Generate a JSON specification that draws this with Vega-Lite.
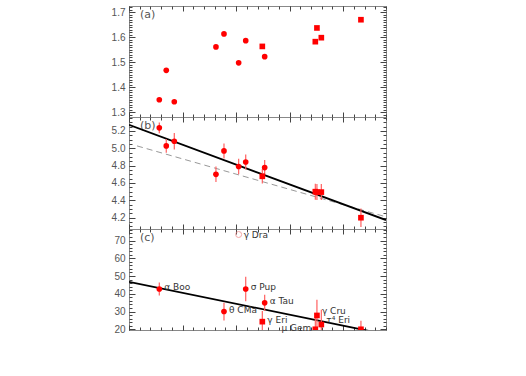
{
  "$schema": "https://vega.github.io/schema/vega-lite/v6.json",
  "background": "white",
  "padding": {"left": 110, "top": 5, "right": 5, "bottom": 5},
  "spacing": 0,
  "bounds": "flush",
  "config": {
    "view": {"stroke": "#888", "strokeWidth": 1},
    "axis": {"domain": false, "grid": false, "ticks": true, "title": null, "tickColor": "#444", "tickWidth": 1, "zindex": 2, "labelFont": "Liberation Sans", "labelFontSize": 10, "labelColor": "#555", "labelOverlap": false, "labelFlush": false},
    "text": {"font": "DejaVu Sans", "fontSize": 9, "color": "#333"}
  },
  "vconcat": [
    {
      "width": 257, "height": 111,
      "data": {"values": [
        {"x": 2.83, "y": 1.349, "type": "circle"},
        {"x": 3.48, "y": 1.467, "type": "circle"},
        {"x": 4.23, "y": 1.341, "type": "circle"},
        {"x": 8.12, "y": 1.561, "type": "circle"},
        {"x": 8.87, "y": 1.613, "type": "circle"},
        {"x": 10.24, "y": 1.497, "type": "circle"},
        {"x": 10.90, "y": 1.586, "type": "circle"},
        {"x": 12.45, "y": 1.563, "type": "square"},
        {"x": 12.67, "y": 1.522, "type": "circle"},
        {"x": 17.40, "y": 1.582, "type": "square"},
        {"x": 17.55, "y": 1.637, "type": "square"},
        {"x": 17.96, "y": 1.598, "type": "square"},
        {"x": 21.66, "y": 1.670, "type": "square"}
      ]},
      "layer": [
        {"mark": {"type": "point", "opacity": 0}, "encoding": {
          "x": {"field": "x", "type": "quantitative", "scale": {"domain": [0, 24], "nice": false, "zero": false}, "axis": {"orient": "top", "offset": -111, "values": [0, 5, 10, 15, 20], "labels": false, "tickSize": 5, "tickColor": "#444", "domain": false, "grid": false, "title": null}},
          "y": {"field": "y", "type": "quantitative", "scale": {"domain": [1.28, 1.725], "nice": false, "zero": false}, "axis": {"orient": "left", "values": [1.3, 1.4, 1.5, 1.6, 1.7], "format": ".1f", "ticks": false, "labelPadding": 4, "labelColor": "#555", "labelFontSize": 10, "domain": false, "grid": false, "title": null}}}},
        {"mark": {"type": "point", "opacity": 0}, "encoding": {
          "x": {"field": "x", "type": "quantitative", "axis": {"orient": "bottom", "offset": -111, "values": [0, 5, 10, 15, 20], "labels": false, "tickSize": 5, "tickColor": "#444", "domain": false, "grid": false, "title": null}},
          "y": {"field": "y", "type": "quantitative", "axis": {"orient": "right", "offset": -257, "values": [1.3, 1.4, 1.5, 1.6, 1.7], "labels": false, "tickSize": 6, "tickColor": "#444", "domain": false, "grid": false, "title": null}}}},
        {"mark": {"type": "point", "opacity": 0}, "encoding": {
          "x": {"field": "x", "type": "quantitative", "axis": {"orient": "top", "offset": -111, "tickCount": 24, "labels": false, "tickSize": 3, "tickColor": "#444", "domain": false, "grid": false, "title": null}},
          "y": {"field": "y", "type": "quantitative", "axis": {"orient": "right", "offset": -257, "tickCount": 45, "labels": false, "tickSize": 3, "tickColor": "#444", "domain": false, "grid": false, "title": null}}}},
        {"mark": {"type": "point", "opacity": 0}, "encoding": {
          "x": {"field": "x", "type": "quantitative", "axis": {"orient": "bottom", "offset": -111, "tickCount": 24, "labels": false, "tickSize": 3, "tickColor": "#444", "domain": false, "grid": false, "title": null}},
          "y": {"field": "y", "type": "quantitative", "axis": {"orient": "left", "offset": -257, "values": [1.3, 1.4, 1.5, 1.6, 1.7], "labels": false, "tickSize": 6, "tickColor": "#444", "domain": false, "grid": false, "title": null}}}},
        {"mark": {"type": "point", "opacity": 0}, "encoding": {
          "x": {"field": "x", "type": "quantitative", "axis": null},
          "y": {"field": "y", "type": "quantitative", "axis": {"orient": "left", "offset": -257, "tickCount": 45, "labels": false, "tickSize": 3, "tickColor": "#444", "domain": false, "grid": false, "title": null}}}},
        {"data": {"values": [{"panel": "(a)"}]},
         "mark": {"type": "text", "align": "left", "baseline": "top", "dx": 11, "dy": 3, "font": "DejaVu Sans", "fontSize": 11, "fontWeight": "normal", "color": "#555"},
         "encoding": {"x": {"datum": 0, "type": "quantitative", "axis": null}, "y": {"datum": 1.725, "type": "quantitative", "axis": null}, "text": {"field": "panel"}}},
        {"mark": {"type": "point", "filled": true, "color": "#ff0000", "size": 32, "opacity": 1}, "encoding": {
          "x": {"field": "x", "type": "quantitative", "axis": null},
          "y": {"field": "y", "type": "quantitative", "axis": null},
          "shape": {"field": "type", "type": "nominal", "scale": {"domain": ["circle", "square"], "range": ["circle", "square"]}, "legend": null}}}
      ],
      "resolve": {"axis": {"x": "independent", "y": "independent"}}
    },
    {
      "width": 257, "height": 112,
      "data": {"values": [
        {"x": 2.83, "y": 5.235, "lo": 5.173, "hi": 5.297, "type": "circle"},
        {"x": 3.48, "y": 5.027, "lo": 4.947, "hi": 5.107, "type": "circle"},
        {"x": 4.23, "y": 5.081, "lo": 4.987, "hi": 5.175, "type": "circle"},
        {"x": 8.12, "y": 4.700, "lo": 4.610, "hi": 4.790, "type": "circle"},
        {"x": 8.87, "y": 4.969, "lo": 4.882, "hi": 5.056, "type": "circle"},
        {"x": 10.24, "y": 4.790, "lo": 4.700, "hi": 4.880, "type": "circle"},
        {"x": 10.90, "y": 4.842, "lo": 4.755, "hi": 4.929, "type": "circle"},
        {"x": 12.45, "y": 4.677, "lo": 4.594, "hi": 4.760, "type": "square"},
        {"x": 12.67, "y": 4.777, "lo": 4.690, "hi": 4.864, "type": "circle"},
        {"x": 17.40, "y": 4.500, "lo": 4.408, "hi": 4.592, "type": "square"},
        {"x": 17.55, "y": 4.495, "lo": 4.403, "hi": 4.587, "type": "square"},
        {"x": 17.96, "y": 4.495, "lo": 4.403, "hi": 4.587, "type": "square"},
        {"x": 21.66, "y": 4.200, "lo": 4.094, "hi": 4.306, "type": "square"}
      ]},
      "layer": [
        {"mark": {"type": "point", "opacity": 0}, "encoding": {
          "x": {"field": "x", "type": "quantitative", "scale": {"domain": [0, 24], "nice": false, "zero": false}, "axis": {"orient": "top", "offset": -112, "values": [0, 5, 10, 15, 20], "labels": false, "tickSize": 5, "tickColor": "#444", "domain": false, "grid": false, "title": null}},
          "y": {"field": "y", "type": "quantitative", "scale": {"domain": [4.07, 5.36], "nice": false, "zero": false}, "axis": {"orient": "left", "values": [4.2, 4.4, 4.6, 4.8, 5.0, 5.2], "format": ".1f", "ticks": false, "labelPadding": 4, "labelColor": "#555", "labelFontSize": 10, "domain": false, "grid": false, "title": null}}}},
        {"mark": {"type": "point", "opacity": 0}, "encoding": {
          "x": {"field": "x", "type": "quantitative", "axis": {"orient": "bottom", "offset": -112, "values": [0, 5, 10, 15, 20], "labels": false, "tickSize": 5, "tickColor": "#444", "domain": false, "grid": false, "title": null}},
          "y": {"field": "y", "type": "quantitative", "axis": {"orient": "right", "offset": -257, "values": [4.2, 4.4, 4.6, 4.8, 5.0, 5.2], "labels": false, "tickSize": 6, "tickColor": "#444", "domain": false, "grid": false, "title": null}}}},
        {"mark": {"type": "point", "opacity": 0}, "encoding": {
          "x": {"field": "x", "type": "quantitative", "axis": {"orient": "top", "offset": -112, "tickCount": 24, "labels": false, "tickSize": 3, "tickColor": "#444", "domain": false, "grid": false, "title": null}},
          "y": {"field": "y", "type": "quantitative", "axis": {"orient": "right", "offset": -257, "tickCount": 26, "labels": false, "tickSize": 3, "tickColor": "#444", "domain": false, "grid": false, "title": null}}}},
        {"mark": {"type": "point", "opacity": 0}, "encoding": {
          "x": {"field": "x", "type": "quantitative", "axis": {"orient": "bottom", "offset": -112, "tickCount": 24, "labels": false, "tickSize": 3, "tickColor": "#444", "domain": false, "grid": false, "title": null}},
          "y": {"field": "y", "type": "quantitative", "axis": {"orient": "left", "offset": -257, "values": [4.2, 4.4, 4.6, 4.8, 5.0, 5.2], "labels": false, "tickSize": 6, "tickColor": "#444", "domain": false, "grid": false, "title": null}}}},
        {"mark": {"type": "point", "opacity": 0}, "encoding": {
          "x": {"field": "x", "type": "quantitative", "axis": null},
          "y": {"field": "y", "type": "quantitative", "axis": {"orient": "left", "offset": -257, "tickCount": 26, "labels": false, "tickSize": 3, "tickColor": "#444", "domain": false, "grid": false, "title": null}}}},
        {"data": {"values": [{"panel": "(b)"}]},
         "mark": {"type": "text", "align": "left", "baseline": "top", "dx": 11, "dy": 3, "font": "DejaVu Sans", "fontSize": 11, "fontWeight": "normal", "color": "#555"},
         "encoding": {"x": {"datum": 0, "type": "quantitative", "axis": null}, "y": {"datum": 5.36, "type": "quantitative", "axis": null}, "text": {"field": "panel"}}},
        {"data": {"values": [{"x": 0.75, "y": 5.027}, {"x": 24, "y": 4.21}]},
         "mark": {"type": "line", "color": "#999", "strokeWidth": 1, "strokeDash": [6, 4], "clip": true},
         "encoding": {"x": {"field": "x", "type": "quantitative", "axis": null}, "y": {"field": "y", "type": "quantitative", "axis": null}}},
        {"data": {"values": [{"x": 0, "y": 5.269}, {"x": 24, "y": 4.173}]},
         "mark": {"type": "line", "color": "#000", "strokeWidth": 1.8, "clip": true},
         "encoding": {"x": {"field": "x", "type": "quantitative", "axis": null}, "y": {"field": "y", "type": "quantitative", "axis": null}}},
        {"mark": {"type": "rule", "color": "#ff6060", "strokeWidth": 1.2, "clip": true}, "encoding": {
          "x": {"field": "x", "type": "quantitative", "axis": null},
          "y": {"field": "lo", "type": "quantitative", "axis": null},
          "y2": {"field": "hi"}}},
        {"mark": {"type": "point", "filled": true, "color": "#ff0000", "size": 32, "opacity": 1, "clip": true}, "encoding": {
          "x": {"field": "x", "type": "quantitative", "axis": null},
          "y": {"field": "y", "type": "quantitative", "axis": null},
          "shape": {"field": "type", "type": "nominal", "scale": {"domain": ["circle", "square"], "range": ["circle", "square"]}, "legend": null}}}
      ],
      "resolve": {"axis": {"x": "independent", "y": "independent"}}
    },
    {
      "width": 257, "height": 101,
      "data": {"values": [
        {"x": 2.83, "y": 42.7, "lo": 39.0, "hi": 46.4, "type": "circle", "star": "α Boo", "pos": "right"},
        {"x": 8.87, "y": 30.0, "lo": 25.0, "hi": 35.0, "type": "circle", "star": "θ CMa", "pos": "right"},
        {"x": 10.90, "y": 42.7, "lo": 35.8, "hi": 49.6, "type": "circle", "star": "σ Pup", "pos": "right"},
        {"x": 12.45, "y": 24.3, "lo": 18.3, "hi": 30.3, "type": "square", "star": "γ Eri", "pos": "right"},
        {"x": 12.67, "y": 34.9, "lo": 30.3, "hi": 39.5, "type": "circle", "star": "α Tau", "pos": "right"},
        {"x": 17.40, "y": 20.0, "lo": 13.0, "hi": 27.0, "type": "square", "star": "μ Gem", "pos": "left"},
        {"x": 17.55, "y": 27.8, "lo": 19.0, "hi": 36.6, "type": "square", "star": "γ Cru", "pos": "upper"},
        {"x": 17.96, "y": 22.7, "lo": 14.4, "hi": 31.0, "type": "square", "star": "τ⁴ Eri", "pos": "upper"},
        {"x": 21.66, "y": 20.0, "lo": 15.0, "hi": 24.8, "type": "square", "star": "", "pos": "none"}
      ]},
      "layer": [
        {"mark": {"type": "point", "opacity": 0}, "encoding": {
          "x": {"field": "x", "type": "quantitative", "scale": {"domain": [0, 24], "nice": false, "zero": false}, "axis": {"orient": "top", "offset": -101, "values": [0, 5, 10, 15, 20], "labels": false, "tickSize": 5, "tickColor": "#444", "domain": false, "grid": false, "title": null}},
          "y": {"field": "y", "type": "quantitative", "scale": {"domain": [19.6, 76.5], "nice": false, "zero": false}, "axis": {"orient": "left", "values": [20, 30, 40, 50, 60, 70], "format": "d", "ticks": false, "labelPadding": 4, "labelColor": "#555", "labelFontSize": 10, "domain": false, "grid": false, "title": null}}}},
        {"mark": {"type": "point", "opacity": 0}, "encoding": {
          "x": {"field": "x", "type": "quantitative", "axis": {"orient": "bottom", "offset": -101, "values": [0, 5, 10, 15, 20], "labels": false, "tickSize": 5, "tickColor": "#444", "domain": false, "grid": false, "title": null}},
          "y": {"field": "y", "type": "quantitative", "axis": {"orient": "right", "offset": -257, "values": [20, 30, 40, 50, 60, 70], "labels": false, "tickSize": 6, "tickColor": "#444", "domain": false, "grid": false, "title": null}}}},
        {"mark": {"type": "point", "opacity": 0}, "encoding": {
          "x": {"field": "x", "type": "quantitative", "axis": {"orient": "top", "offset": -101, "tickCount": 24, "labels": false, "tickSize": 3, "tickColor": "#444", "domain": false, "grid": false, "title": null}},
          "y": {"field": "y", "type": "quantitative", "axis": {"orient": "right", "offset": -257, "tickCount": 28, "labels": false, "tickSize": 3, "tickColor": "#444", "domain": false, "grid": false, "title": null}}}},
        {"mark": {"type": "point", "opacity": 0}, "encoding": {
          "x": {"field": "x", "type": "quantitative", "axis": {"orient": "bottom", "offset": -101, "tickCount": 24, "labels": false, "tickSize": 3, "tickColor": "#444", "domain": false, "grid": false, "title": null}},
          "y": {"field": "y", "type": "quantitative", "axis": {"orient": "left", "offset": -257, "values": [20, 30, 40, 50, 60, 70], "labels": false, "tickSize": 6, "tickColor": "#444", "domain": false, "grid": false, "title": null}}}},
        {"mark": {"type": "point", "opacity": 0}, "encoding": {
          "x": {"field": "x", "type": "quantitative", "axis": null},
          "y": {"field": "y", "type": "quantitative", "axis": {"orient": "left", "offset": -257, "tickCount": 28, "labels": false, "tickSize": 3, "tickColor": "#444", "domain": false, "grid": false, "title": null}}}},
        {"data": {"values": [{"panel": "(c)"}]},
         "mark": {"type": "text", "align": "left", "baseline": "top", "dx": 11, "dy": 3, "font": "DejaVu Sans", "fontSize": 11, "fontWeight": "normal", "color": "#555"},
         "encoding": {"x": {"datum": 0, "type": "quantitative", "axis": null}, "y": {"datum": 76.5, "type": "quantitative", "axis": null}, "text": {"field": "panel"}}},
        {"data": {"values": [{"x": 0, "y": 46.7}, {"x": 24, "y": 17.1}]},
         "mark": {"type": "line", "color": "#000", "strokeWidth": 1.8, "clip": true},
         "encoding": {"x": {"field": "x", "type": "quantitative", "axis": null}, "y": {"field": "y", "type": "quantitative", "axis": null}}},
        {"mark": {"type": "rule", "color": "#ff6060", "strokeWidth": 1.2, "clip": true}, "encoding": {
          "x": {"field": "x", "type": "quantitative", "axis": null},
          "y": {"field": "lo", "type": "quantitative", "axis": null},
          "y2": {"field": "hi"}}},
        {"mark": {"type": "point", "filled": true, "color": "#ff0000", "size": 32, "opacity": 1, "clip": true}, "encoding": {
          "x": {"field": "x", "type": "quantitative", "axis": null},
          "y": {"field": "y", "type": "quantitative", "axis": null},
          "shape": {"field": "type", "type": "nominal", "scale": {"domain": ["circle", "square"], "range": ["circle", "square"]}, "legend": null}}},
        {"data": {"values": [{"x": 10.24, "y": 73.4, "star": "γ Dra"}]},
         "layer": [
           {"mark": {"type": "point", "filled": false, "shape": "circle", "color": "#f08080", "size": 36, "strokeWidth": 1},
            "encoding": {"x": {"field": "x", "type": "quantitative", "axis": null}, "y": {"field": "y", "type": "quantitative", "axis": null}}},
           {"mark": {"type": "text", "align": "left", "baseline": "middle", "dx": 5, "dy": 0.5},
            "encoding": {"x": {"field": "x", "type": "quantitative", "axis": null}, "y": {"field": "y", "type": "quantitative", "axis": null}, "text": {"field": "star"}}}
         ]},
        {"transform": [{"filter": "datum.pos == 'right'"}],
         "mark": {"type": "text", "align": "left", "baseline": "middle", "dx": 5, "dy": -2},
         "encoding": {"x": {"field": "x", "type": "quantitative", "axis": null}, "y": {"field": "y", "type": "quantitative", "axis": null}, "text": {"field": "star"}}},
        {"transform": [{"filter": "datum.pos == 'upper'"}],
         "mark": {"type": "text", "align": "left", "baseline": "middle", "dx": 5, "dy": -4},
         "encoding": {"x": {"field": "x", "type": "quantitative", "axis": null}, "y": {"field": "y", "type": "quantitative", "axis": null}, "text": {"field": "star"}}},
        {"transform": [{"filter": "datum.pos == 'left'"}],
         "mark": {"type": "text", "align": "right", "baseline": "middle", "dx": -4, "dy": -1},
         "encoding": {"x": {"field": "x", "type": "quantitative", "axis": null}, "y": {"field": "y", "type": "quantitative", "axis": null}, "text": {"field": "star"}}}
      ],
      "resolve": {"axis": {"x": "independent", "y": "independent"}}
    }
  ]
}
